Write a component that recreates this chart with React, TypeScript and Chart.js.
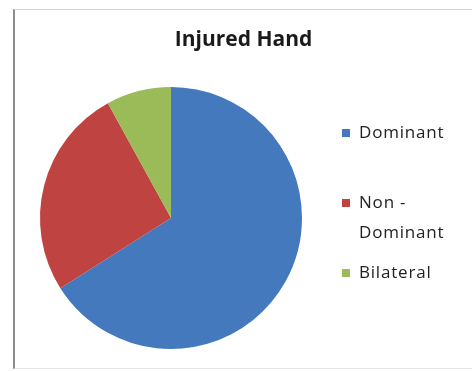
import React, { useEffect, useRef } from "react";
import { Chart, registerables } from "chart.js";

Chart.register(...registerables);

const chartTitle = "Injured Hand";
const categories = ["Dominant", "Non - Dominant", "Bilateral"];
const values = [66, 26, 8];
const colors = ["#4479BE", "#BF4441", "#9BBB59"];

const sideLegend = {
  id: "sideLegend",
  afterDraw(chart: any) {
    const ctx = chart.ctx as CanvasRenderingContext2D;
    const labels = chart.data.labels as string[];
    const bg = chart.data.datasets[0].backgroundColor as string[];
    ctx.save();
    // title
    ctx.font = "bold 21px 'Open Sans'";
    ctx.fillStyle = "#1a1a1a";
    ctx.textAlign = "center";
    ctx.textBaseline = "middle";
    ctx.fillText(chartTitle, chart.width / 2, 30);
    // legend
    ctx.font = "17px 'Open Sans'";
    (ctx as any).letterSpacing = "0.8px";
    ctx.textBaseline = "middle";
    ctx.textAlign = "left";
    const boxX = 327;
    const textX = 344;
    const maxW = 100;
    let y = 123;
    labels.forEach((lab, i) => {
      const words = lab.split(" ");
      const lines: string[] = [];
      let cur = "";
      words.forEach((w) => {
        const test = cur ? cur + " " + w : w;
        if (cur && ctx.measureText(test).width > maxW) {
          lines.push(cur);
          cur = w;
        } else cur = test;
      });
      if (cur) lines.push(cur);
      ctx.fillStyle = bg[i];
      ctx.fillRect(boxX, y - 4, 8, 8);
      ctx.fillStyle = "#222222";
      lines.forEach((ln, j) => ctx.fillText(ln, textX, y + j * 30));
      y += 70;
    });
    ctx.restore();
  },
};

export default function App() {
  const ref = useRef<HTMLCanvasElement>(null);
  useEffect(() => {
    if (!ref.current) return;
    const chart = new Chart(ref.current, {
      type: "pie",
      data: {
        labels: categories,
        datasets: [
          {
            data: values,
            backgroundColor: colors,
            borderWidth: 0,
          },
        ],
      },
      options: {
        responsive: false,
        animation: false,
        layout: { padding: { left: 25, right: 170, top: 77, bottom: 19 } },
        plugins: {
          legend: { display: false },
          tooltip: { enabled: false },
          title: { display: false },
        },
      },
      plugins: [sideLegend],
    });
    return () => chart.destroy();
  }, []);
  return (
    <div
      style={{
        position: "fixed",
        left: 0,
        top: 0,
        width: 472,
        height: 371,
        overflow: "hidden",
        background: "#ffffff",
      }}
    >
      <div
        style={{
          position: "absolute",
          left: 13,
          top: 9,
          width: 470,
          height: 358,
          borderLeft: "2px solid #8c8c8c",
          borderTop: "1px solid #d4d4d4",
          borderBottom: "1px solid #e4e4e4",
        }}
      />
      <canvas
        ref={ref}
        width={457}
        height={358}
        style={{ position: "absolute", left: 15, top: 10, display: "block" }}
      />
    </div>
  );
}
